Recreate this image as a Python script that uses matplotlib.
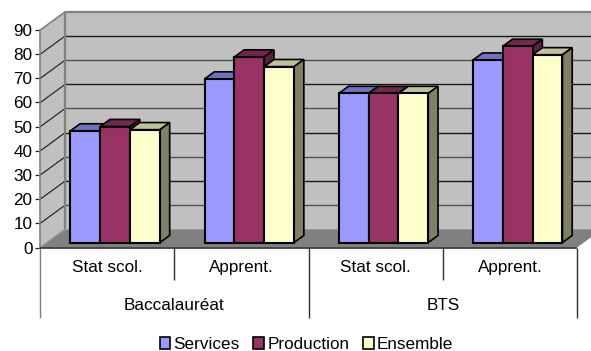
import matplotlib
matplotlib.use("Agg")
import matplotlib.pyplot as plt
from matplotlib.patches import Polygon, Patch

plt.rcParams['font.family'] = ['Liberation Sans', 'DejaVu Sans']

groups = ["Baccalauréat", "BTS"]
categories = ["Stat scol.", "Apprent.", "Stat scol.", "Apprent."]
series_names = ["Services", "Production", "Ensemble"]
services = [46.2, 67.7, 61.7, 75.5]
production = [48.0, 76.8, 61.7, 81.2]
ensemble = [46.7, 72.8, 61.7, 77.7]
y_ticks = [0, 10, 20, 30, 40, 50, 60, 70, 80, 90]

W, H = 591, 351
FS = 12.3
fig = plt.figure(figsize=(W / 100, H / 100), dpi=100, facecolor="white")
x0, x1, ybot, ytop = 40.3, 577.0, 247.5, 30.0
ax = fig.add_axes([x0 / W, 1 - ybot / H, (x1 - x0) / W, (ybot - ytop) / H])
ax.set_xlim(0, 4)
ax.set_ylim(0, 90)
ax.patch.set_visible(False)

px_x = 4 / (x1 - x0)
px_y = 90 / (ybot - ytop)
DX = 25 * px_x      # depth shift of the back wall, in data units
DY = 18.3 * px_y


def proj(x, v, d):
    """Oblique projection: d=0 front plane, d=1 back wall."""
    return (x + d * DX, v + d * DY)


def poly(points, fc, ec="none", lw=0, z=1):
    ax.add_patch(Polygon(points, closed=True, facecolor=fc, edgecolor=ec,
                         linewidth=lw, zorder=z, clip_on=False, joinstyle="miter"))


def seg(a, b, color, lw, z=2):
    ax.plot([a[0], b[0]], [a[1], b[1]], color=color, lw=lw, zorder=z,
            clip_on=False, solid_capstyle="butt")


XMAX, VMAX = 4, y_ticks[-1]
WALL, FLOOR, EDGE = "#C0C0C0", "#808080", "#808080"

# walls and floor
poly([proj(0, 0, 1), proj(XMAX, 0, 1), proj(XMAX, VMAX, 1), proj(0, VMAX, 1)], WALL)
poly([proj(0, 0, 0), proj(0, 0, 1), proj(0, VMAX, 1), proj(0, VMAX, 0)], WALL)
poly([proj(0, 0, 0), proj(XMAX, 0, 0), proj(XMAX, 0, 1), proj(0, 0, 1)], FLOOR)

# gridlines on the walls
for k, v in enumerate(y_ticks[1:-1]):
    c = "#1a1a1a" if k % 2 else "#505050"
    seg(proj(0, v, 1), proj(XMAX, v, 1), c, 1.0)
    seg(proj(0, v, 0), proj(0, v, 1), "#1a1a1a", 0.8)
seg(proj(0, VMAX, 1), proj(XMAX, VMAX, 1), EDGE, 1.6)
seg(proj(0, VMAX, 0), proj(0, VMAX, 1), EDGE, 1.2)
seg(proj(0, 0, 1), proj(0, VMAX, 1), EDGE, 1.6)
seg(proj(0, 0, 0), proj(0, 0, 1), "#909090", 1.0)

# bars
series = [services, production, ensemble]
fronts = ["#9999FF", "#993366", "#FFFFCC"]
tops = ["#7070C0", "#732650", "#C0C099"]
sides = ["#5C5C99", "#5C1F3D", "#808066"]
bar_w = 0.2225
bar_shift = 0.0075
d_front, d_back = 0.27, 0.66
for i in range(len(categories)):
    start = i + 0.5 - 1.5 * bar_w + bar_shift
    for j, vals in enumerate(series):
        v = vals[i]
        a = start + j * bar_w
        b = a + bar_w
        poly([proj(a, v, d_front), proj(b, v, d_front), proj(b, v, d_back), proj(a, v, d_back)],
             tops[j], "black", 1.2, 5 + j)
        poly([proj(b, 0, d_front), proj(b, 0, d_back), proj(b, v, d_back), proj(b, v, d_front)],
             sides[j], "black", 1.2, 5 + j)
        poly([proj(a, 0, d_front), proj(b, 0, d_front), proj(b, v, d_front), proj(a, v, d_front)],
             fronts[j], "black", 1.5, 5 + j)

# front edge of the floor
seg(proj(0, 0, 0), proj(XMAX, 0, 0), "#303030", 1.2, 9)

# axes
for s in ax.spines.values():
    s.set_visible(False)
ax.spines["left"].set_visible(True)
ax.spines["left"].set_color(EDGE)
ax.spines["left"].set_linewidth(1.2)
ax.set_yticks(y_ticks)
ax.set_xticks([])
ax.tick_params(axis="y", length=3.6, width=0.9, color="#202020", pad=2,
               labelsize=FS, labelcolor="black")

# multi-level category axis, below the plot
v_mid = -(280 - ybot) * px_y
v_low = -(318 - ybot) * px_y
v_lab = -(267.5 - ybot) * px_y
v_grp = -(305 - ybot) * px_y
for i in range(len(categories) + 1):
    major = i % 2 == 0
    color = EDGE if i == 0 else "#303030"
    seg((i, 0), (i, v_low if major else v_mid), color, 1.0)
for i, c in enumerate(categories):
    ax.text(i + 0.5, v_lab, c, ha="center", va="center", fontsize=FS, clip_on=False)
for i, g in enumerate(groups):
    ax.text(2 * i + 1, v_grp, g, ha="center", va="center", fontsize=FS, clip_on=False)

# legend
handles = [Patch(facecolor=f, edgecolor="black", linewidth=1.2) for f in fronts]
leg = fig.legend(handles, series_names, loc="center", ncol=3, frameon=False,
                 bbox_to_anchor=(306.5 / W, 1 - 344.5 / H), fontsize=FS,
                 handlelength=0.62, handleheight=0.62, handletextpad=0.2,
                 columnspacing=0.8, borderpad=0, borderaxespad=0)

fig.savefig("out.png", dpi=100)
